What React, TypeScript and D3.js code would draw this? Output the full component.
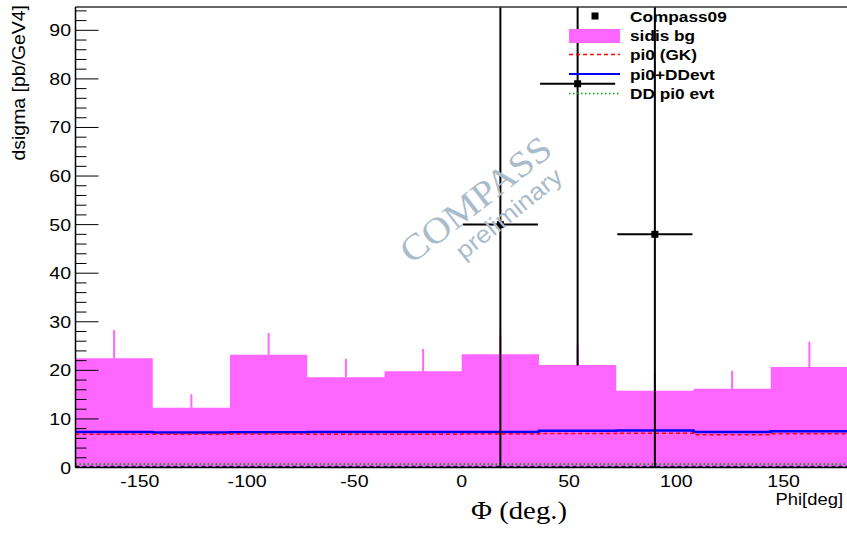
import React from "react";
import * as d3 from "d3";

const binEdges = [-180, -144, -108, -72, -36, 0, 36, 72, 108, 144, 180];
const sidisBg = [22.5, 12.3, 23.2, 18.6, 19.8, 23.3, 21.1, 15.8, 16.2, 20.7];
const sidisErr = [5.8, 2.8, 4.5, 3.8, 4.6, 4.0, 4.0, 3.5, 3.7, 5.2];
const pi0GK = [6.85, 6.85, 6.9, 6.85, 6.85, 6.9, 7.0, 7.05, 6.75, 6.95];
const pi0DD = [7.3, 7.2, 7.25, 7.3, 7.3, 7.3, 7.55, 7.6, 7.3, 7.45];
const ddPi0 = [0.7, 0.7, 0.7, 0.7, 0.7, 0.7, 0.7, 0.7, 0.7, 0.7];
const zeroLine = [0.15, 0.15, 0.15, 0.15, 0.15, 0.15, 0.15, 0.15, 0.15, 0.15];

const compassX = [18, 54, 90];
const compassY = [50.0, 79.0, 48.0];
const compassXErr = [17.5, 17.5, 17.5];
const compassYErr = [55, 58, 52];

const xTicks = [-150, -100, -50, 0, 50, 100, 150];
const yTicks = [0, 10, 20, 30, 40, 50, 60, 70, 80, 90];

const legendLabels = ["Compass09", "sidis bg", "pi0 (GK)", "pi0+DDevt", "DD pi0 evt"];

const W = 847;
const H = 537;
const L = 75.5;
const R = 847;
const T = 7;
const B = 467.5;
const SX = 1.15;

const x = d3.scaleLinear().domain([-180, 180]).range([L, R + 1]);
const y = d3.scaleLinear().domain([0, 94.8]).range([B, T]);

function stepPts(vals: number[]) {
  const pts: [number, number][] = [];
  vals.forEach((v, i) => {
    pts.push([x(binEdges[i]), y(v)]);
    pts.push([x(binEdges[i + 1]), y(v)]);
  });
  return pts;
}

function stepPath(vals: number[]) {
  return d3.line()(stepPts(vals)) as string;
}

function areaPath(vals: number[]) {
  return d3
    .area<[number, number]>()
    .x((p) => p[0])
    .y0(B)
    .y1((p) => p[1])(stepPts(vals)) as string;
}

function Txt(props: any) {
  const { x: tx, y: ty, sx = SX, children, ...rest } = props;
  return (
    <text transform={`translate(${tx},${ty}) scale(${sx},1)`} {...rest}>
      {children}
    </text>
  );
}

export default function App() {
  const minorTicks = d3.range(0, 95, 2).filter((v) => v % 10 !== 0);
  const sans = "'Liberation Sans', Arial, sans-serif";
  const serif = "'Liberation Serif', 'Times New Roman', serif";
  const legY = [16, 35.5, 54.5, 74, 93.5];
  return (
    <svg
      width={W}
      height={H}
      style={{ position: "fixed", left: 0, top: 0, background: "#fff" }}
    >
      <defs>
        <clipPath id="frame">
          <rect x={L} y={T} width={R - L} height={B - T} />
        </clipPath>
      </defs>
      <rect x={0} y={0} width={W} height={H} fill="#fff" />
      <g clipPath="url(#frame)">
        <path d={areaPath(sidisBg)} fill="#ff66ff" />
        {sidisBg.map((v, i) => {
          const cx = x((binEdges[i] + binEdges[i + 1]) / 2);
          return (
            <line
              key={"be" + i}
              x1={cx}
              x2={cx}
              y1={y(v)}
              y2={y(v + sidisErr[i])}
              stroke="#ff66ff"
              strokeWidth={2}
            />
          );
        })}
        <path d={stepPath(zeroLine)} fill="none" stroke="#000050" strokeWidth={2} strokeDasharray="4,3" />
        <path d={stepPath(ddPi0)} fill="none" stroke="#00a000" strokeWidth={1.8} strokeDasharray="1.5,2.5" />
        <path d={stepPath(pi0DD)} fill="none" stroke="#0000ff" strokeWidth={2.5} />
        <path d={stepPath(pi0GK)} fill="none" stroke="#ff0000" strokeWidth={1.5} strokeDasharray="4,3" />
        {compassX.map((cx, i) => (
          <g key={"c" + i}>
            <line
              x1={x(cx)}
              x2={x(cx)}
              y1={y(compassY[i] - compassYErr[i])}
              y2={y(compassY[i] + compassYErr[i])}
              stroke="#000"
              strokeWidth={2}
            />
            <line
              x1={x(cx - compassXErr[i])}
              x2={x(cx + compassXErr[i])}
              y1={y(compassY[i])}
              y2={y(compassY[i])}
              stroke="#000"
              strokeWidth={2}
            />
            <rect x={x(cx) - 3.5} y={y(compassY[i]) - 3.5} width={7} height={7} fill="#000" />
          </g>
        ))}
      </g>

      {/* watermark */}
      <text
        transform="translate(483,209) rotate(-38) scale(1.1,1)"
        textAnchor="middle"
        fontFamily={serif}
        fontSize={36}
        fill="#a9bccb"
      >
        COMPASS
      </text>
      <text
        transform="translate(514,220) rotate(-39) scale(1.1,1)"
        textAnchor="middle"
        fontFamily={sans}
        fontSize={24}
        fill="#a9bccb"
      >
        preliminary
      </text>

      {/* frame */}
      <line x1={L} x2={R} y1={T} y2={T} stroke="#333" strokeWidth={1.5} />
      <line x1={L} x2={L} y1={T} y2={B} stroke="#000" strokeWidth={1.5} />
      <line x1={L} x2={R} y1={B} y2={B} stroke="#000" strokeWidth={1.5} />

      {yTicks.map((t) => (
        <g key={"yt" + t}>
          <line x1={L} x2={L + 23} y1={y(t)} y2={y(t)} stroke="#000" strokeWidth={1} />
          <Txt x={71} y={y(t) + 6} textAnchor="end" fontFamily={sans} fontSize={17}>
            {t}
          </Txt>
        </g>
      ))}
      {minorTicks.map((t) => (
        <line key={"ym" + t} x1={L} x2={L + 11} y1={y(t)} y2={y(t)} stroke="#000" strokeWidth={1} />
      ))}

      {xTicks.map((t) => (
        <Txt key={"xt" + t} x={x(t)} y={487} textAnchor="middle" fontFamily={sans} fontSize={17}>
          {t}
        </Txt>
      ))}

      <text
        transform="translate(25,5) rotate(-90) scale(1.08,1)"
        textAnchor="end"
        fontFamily={sans}
        fontSize={18}
      >
        dsigma [pb/GeV4]
      </text>
      <Txt x={843} y={505} textAnchor="end" fontFamily={sans} fontSize={16}>
        Phi[deg]
      </Txt>
      <Txt x={519} y={519} textAnchor="middle" fontFamily={serif} fontSize={25}>
        Φ (deg.)
      </Txt>

      {/* legend */}
      <rect x={591.5} y={legY[0] - 3.5} width={7} height={7} fill="#000" />
      <rect x={569} y={29} width={51} height={14} fill="#ff66ff" />
      <line x1={569} x2={620} y1={legY[2]} y2={legY[2]} stroke="#ff0000" strokeWidth={1.5} strokeDasharray="4,3" />
      <line x1={569} x2={620} y1={legY[3]} y2={legY[3]} stroke="#0000ff" strokeWidth={2} />
      <line x1={569} x2={620} y1={legY[4]} y2={legY[4]} stroke="#00a000" strokeWidth={1.5} strokeDasharray="1.5,2.5" />
      {legendLabels.map((lab, i) => (
        <Txt
          key={"lg" + i}
          x={630}
          y={legY[i] + 5.5}
          fontFamily={sans}
          fontSize={15}
          fontWeight="bold"
        >
          {lab}
        </Txt>
      ))}
    </svg>
  );
}
